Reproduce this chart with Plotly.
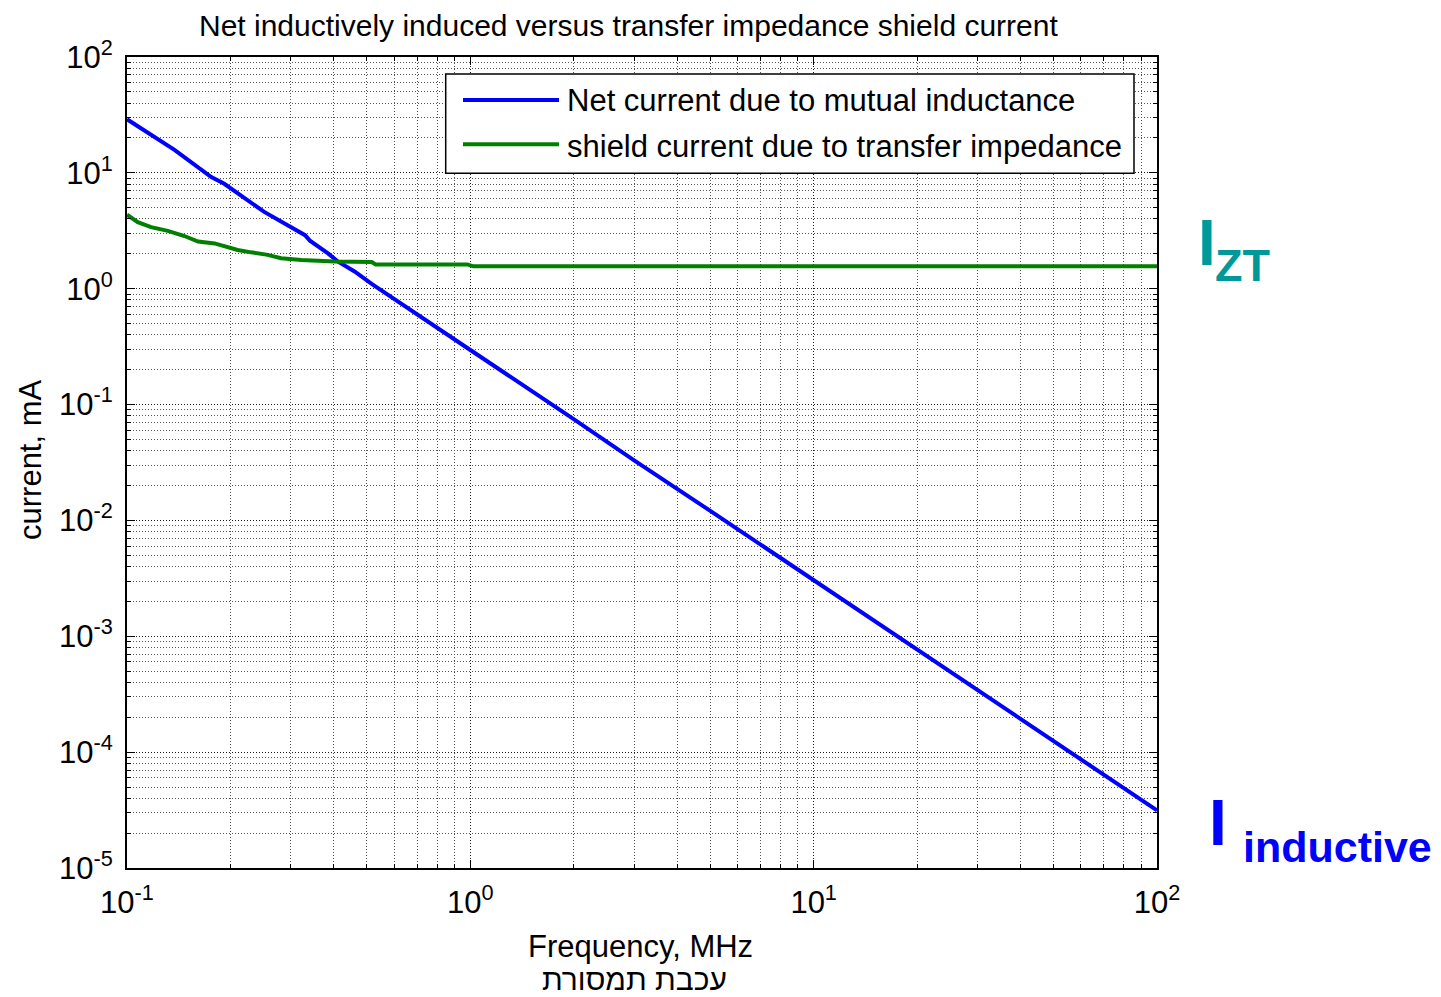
import plotly.graph_objects as go

# ---- data ----
freq_inductive = [0.1, 0.1375, 0.176, 0.192, 0.251, 0.301, 0.33, 0.341, 0.385, 0.412,
                  0.46, 0.516, 0.59, 0.688, 0.922, 1.0, 2.0, 3.0, 5.0, 7.0, 10.0,
                  20.0, 30.0, 50.0, 70.0, 100.0]
current_inductive = [29.0, 15.8, 9.2, 8.05, 4.6, 3.42, 2.9, 2.6, 2.02, 1.71,
                     1.41, 1.1, 0.84, 0.62, 0.35, 0.296, 0.075, 0.033, 0.0121, 0.0062,
                     0.00306, 7.7e-4, 3.4e-4, 1.24e-4, 6.3e-5, 3.14e-5]

freq_zt = [0.1, 0.1075, 0.1175, 0.1315, 0.147, 0.161, 0.18, 0.21, 0.23, 0.257,
           0.281, 0.322, 0.402, 0.516, 0.53, 0.98, 1.02, 100.0]
current_zt = [4.35, 3.75, 3.4, 3.16, 2.85, 2.55, 2.46, 2.16, 2.06, 1.96,
              1.83, 1.77, 1.72, 1.7, 1.62, 1.62, 1.56, 1.56]

series_names = ["Net current due to mutual inductance",
                "shield current due to transfer impedance"]

x_tickvals = [0.1, 1, 10, 100]
x_ticktext = ["10<sup>-1</sup>", "10<sup>0</sup>", "10<sup>1</sup>", "10<sup>2</sup>"]
y_tickvals = [1e-5, 1e-4, 1e-3, 1e-2, 1e-1, 1, 10, 100]
y_ticktext = ["10<sup>-5</sup>", "10<sup>-4</sup>", "10<sup>-3</sup>", "10<sup>-2</sup>",
              "10<sup>-1</sup>", "10<sup>0</sup>", "10<sup>1</sup>", "10<sup>2</sup>"]

title_text = "Net inductively induced versus transfer impedance shield current"
xlabel = "Frequency, MHz"
ylabel = "current, mA"
hebrew_label = "עכבת תמסורת"

BLUE = "#0000FF"
GREEN = "#008000"
TEAL = "#009999"
FONT = "Liberation Sans, Arial, sans-serif"

def minor_vals(lo_exp, hi_exp):
    out = []
    for e in range(lo_exp, hi_exp):
        for m in range(2, 10):
            out.append(m * 10.0 ** e)
    return out

fig = go.Figure()
fig.add_trace(go.Scatter(x=freq_inductive, y=current_inductive, mode="lines",
                         line=dict(color=BLUE, width=4), showlegend=False,
                         name=series_names[0]))
fig.add_trace(go.Scatter(x=freq_zt, y=current_zt, mode="lines",
                         line=dict(color=GREEN, width=4), showlegend=False,
                         name=series_names[1]))

# page offset of the plot div (body margin)
OFF = 8
PAGE_W, PAGE_H = 1441, 997
FIG_W, FIG_H = PAGE_W - OFF, PAGE_H - OFF
# plot area in page px: x 127..1157, y 57..868
L, R, T, B = 127, 1157, 57, 868
W, H = R - L, B - T
def px(x):
    return (x - L) / W
def py(y):
    return (B - y) / H

axis_common = dict(
    type="log", showline=True, linecolor="black", linewidth=2, mirror="allticks",
    ticks="inside", ticklen=8, tickcolor="black", tickwidth=1,
    showgrid=True, gridcolor="#1a1a1a", gridwidth=1, griddash="1px,2px",
    zeroline=False, tickfont=dict(family=FONT, size=31, color="black"),
    tickmode="array", automargin=False,
)

fig.update_xaxes(**axis_common, range=[-1, 2], tickvals=x_tickvals, ticktext=x_ticktext,
                 ticklabelstandoff=6,
                 minor=dict(tickmode="array", tickvals=minor_vals(-1, 2), ticks="inside",
                            ticklen=4, tickcolor="black", showgrid=True,
                            gridcolor="#555555", gridwidth=1, griddash="1px,2px"))
fig.update_yaxes(**axis_common, range=[-5, 2], tickvals=y_tickvals, ticktext=y_ticktext,
                 ticklabelstandoff=6,
                 minor=dict(tickmode="array", tickvals=minor_vals(-5, 2), ticks="inside",
                            ticklen=4, tickcolor="black", showgrid=True,
                            gridcolor="#555555", gridwidth=1, griddash="1px,2px"))

shapes = []
# legend box
shapes.append(dict(type="rect", xref="paper", yref="paper",
                   x0=px(445.7), x1=px(1134), y0=py(173.3), y1=py(74),
                   line=dict(color="black", width=1.5), fillcolor="white", layer="above"))
shapes.append(dict(type="line", xref="paper", yref="paper",
                   x0=px(463), x1=px(559), y0=py(100), y1=py(100),
                   line=dict(color=BLUE, width=4), layer="above"))
shapes.append(dict(type="line", xref="paper", yref="paper",
                   x0=px(463), x1=px(559), y0=py(144.3), y1=py(144.3),
                   line=dict(color=GREEN, width=4), layer="above"))

ann = []
def A(text, x, y, size, color="black", xanchor="left", yanchor="bottom", angle=0, bold=False):
    ann.append(dict(text=text, x=x, y=y, xref="paper", yref="paper", showarrow=False,
                    xanchor=xanchor, yanchor=yanchor, textangle=angle, borderpad=0,
                    font=dict(family=FONT, size=size, color=color,
                              weight="bold" if bold else "normal")))

A(series_names[0], px(566), py(119), 31)
A(series_names[1], px(566), py(164.7), 31)
A(title_text, px(628), py(8), 30, xanchor="center", yanchor="top")
A(xlabel, px(640), py(946), 31, xanchor="center", yanchor="middle")
A(hebrew_label, px(634), py(979), 30, xanchor="center", yanchor="middle")
A(ylabel, px(30), py(460), 31, xanchor="center", yanchor="middle", angle=-90)
# right-hand labels
A("I", px(1197), py(279.6), 64, color=TEAL, bold=True)
A("ZT", px(1214), py(291.5), 45, color=TEAL, bold=True)
A("I", px(1208), py(859.6), 64, color=BLUE, bold=True)
A("inductive", px(1242), py(872.1), 43, color=BLUE, bold=True)

fig.update_layout(
    width=FIG_W, height=FIG_H,
    margin=dict(l=L - OFF, r=FIG_W - (R - OFF), t=T - OFF, b=FIG_H - (B - OFF),
                autoexpand=False),
    paper_bgcolor="white", plot_bgcolor="white",
    shapes=shapes, annotations=ann, showlegend=False,
    font=dict(family=FONT, color="black"),
)

fig.write_html("out.html")
